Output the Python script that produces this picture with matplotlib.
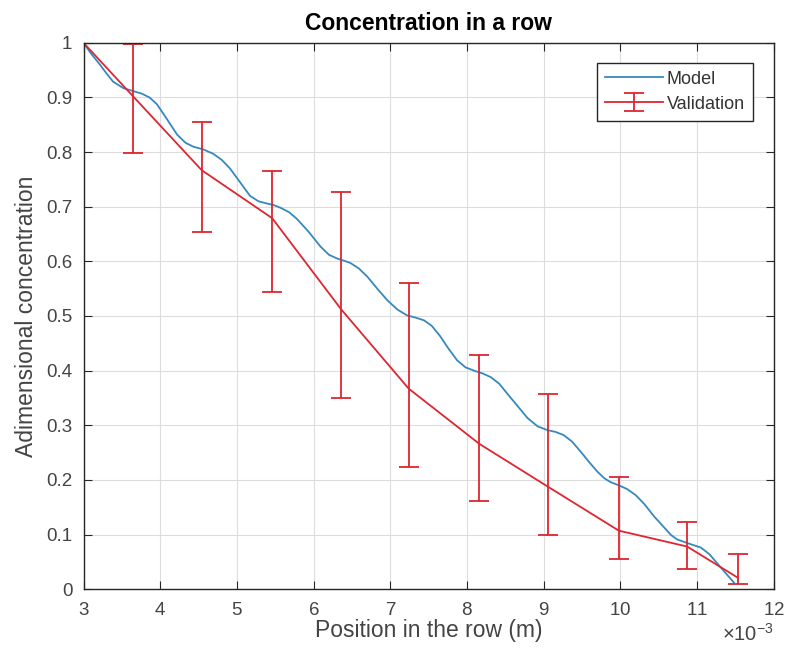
import numpy as np
import matplotlib.pyplot as plt
from matplotlib.ticker import ScalarFormatter, FuncFormatter

plt.rcParams['font.family'] = ['Liberation Sans', 'DejaVu Sans']
plt.rcParams['mathtext.fontset'] = 'custom'
plt.rcParams['mathtext.rm'] = 'Liberation Sans'

# model curve, positions in mm (plotted in m)
model_x = [3.0, 3.1, 3.215, 3.3, 3.385, 3.52, 3.64, 3.76, 3.86, 3.955, 4.08, 4.22,
           4.33, 4.43, 4.56, 4.69, 4.80, 4.91, 5.04, 5.17, 5.28, 5.39, 5.48,
           5.57, 5.68, 5.78, 5.93, 6.09, 6.20, 6.31, 6.40, 6.48, 6.59, 6.70,
           6.83, 6.96, 7.09, 7.22, 7.33, 7.44, 7.54, 7.65, 7.76, 7.87, 7.98,
           8.09, 8.20, 8.31, 8.42, 8.53, 8.66, 8.79, 8.92, 9.05, 9.15, 9.26,
           9.37, 9.48, 9.59, 9.70, 9.79, 9.87, 9.98, 10.09, 10.20, 10.31, 10.44,
           10.57, 10.66, 10.74, 10.88, 11.05, 11.16, 11.27, 11.38, 11.48]
model_y = [1.0, 0.98, 0.96, 0.944, 0.929, 0.917, 0.912, 0.907, 0.90, 0.888, 0.862, 0.832,
           0.817, 0.81, 0.805, 0.797, 0.786, 0.77, 0.745, 0.72, 0.71, 0.706, 0.703,
           0.698, 0.69, 0.678, 0.655, 0.627, 0.612, 0.605, 0.601, 0.597, 0.587, 0.572,
           0.55, 0.529, 0.512, 0.501, 0.497, 0.492, 0.482, 0.463, 0.44, 0.419, 0.406,
           0.40, 0.395, 0.388, 0.376, 0.357, 0.335, 0.313, 0.298, 0.291, 0.288, 0.282,
           0.27, 0.252, 0.233, 0.215, 0.203, 0.196, 0.19, 0.183, 0.172, 0.156, 0.133,
           0.113, 0.099, 0.091, 0.084, 0.076, 0.064, 0.046, 0.028, 0.012]

# validation measurements
val_x = [3.0, 3.64, 4.54, 5.46, 6.36, 7.24, 8.16, 9.05, 9.98, 10.87, 11.53]
val_y = [1.0, 0.903, 0.767, 0.679, 0.512, 0.367, 0.266, 0.188, 0.107, 0.078, 0.021]
val_low = [1.0, 0.798, 0.654, 0.543, 0.35, 0.223, 0.162, 0.10, 0.055, 0.037, 0.01]
val_high = [1.0, 0.997, 0.856, 0.765, 0.727, 0.561, 0.429, 0.358, 0.205, 0.123, 0.064]

mx = np.array(model_x) * 1e-3
vx = np.array(val_x) * 1e-3
vy = np.array(val_y)
yerr = [vy - np.array(val_low), np.array(val_high) - vy]

fig = plt.figure(figsize=(7.88, 6.59), dpi=100)
ax = fig.add_axes([0.106, 0.106, 0.876, 0.829])

ax.plot(mx, model_y, color='#3589BE', lw=1.3, label='Model')
ax.errorbar(vx, vy, yerr=yerr, color='#DC2630', lw=1.3, capsize=7,
            elinewidth=1.3, capthick=1.3, label='Validation')

ax.set_xlim(3e-3, 12e-3)
ax.set_ylim(0, 1)
ax.set_xticks(np.arange(3, 13) * 1e-3)
ax.set_yticks(np.arange(0, 11) / 10)

fmt = ScalarFormatter(useMathText=True)
fmt.set_powerlimits((-3, -3))
ax.xaxis.set_major_formatter(fmt)
ax.yaxis.set_major_formatter(FuncFormatter(lambda v, p: '%g' % round(v, 2)))
ax.xaxis.get_offset_text().set_fontsize(14.5)
ax.xaxis.get_offset_text().set_color('#444444')

ax.tick_params(direction='in', top=True, right=True, labelsize=13.5,
               labelcolor='#444444', color='#262626', length=6)
ax.tick_params(axis='x', pad=9)
ax.tick_params(axis='y', pad=8)
ax.grid(True, color='#DDDDDD', lw=0.8)
ax.set_axisbelow(True)
for s in ax.spines.values():
    s.set_color('#262626')
    s.set_linewidth(1.0)

ax.set_title('Concentration in a row', fontsize=16.5, fontweight='bold', pad=9)
ax.set_xlabel('Position in the row (m)', fontsize=16.5, color='#444444', labelpad=0)
ax.set_ylabel('Adimensional concentration', fontsize=16.5, color='#444444', labelpad=6)

leg = ax.legend(loc='upper right', bbox_to_anchor=(0.97, 0.964), fontsize=13,
                fancybox=False, framealpha=1, edgecolor='#262626',
                borderpad=0.45, handlelength=3.2, labelspacing=0.45,
                handletextpad=0.2, borderaxespad=0)
leg.get_frame().set_linewidth(1.0)
for t in leg.get_texts():
    t.set_color('#333333')

fig.savefig('out.png', dpi=100)
